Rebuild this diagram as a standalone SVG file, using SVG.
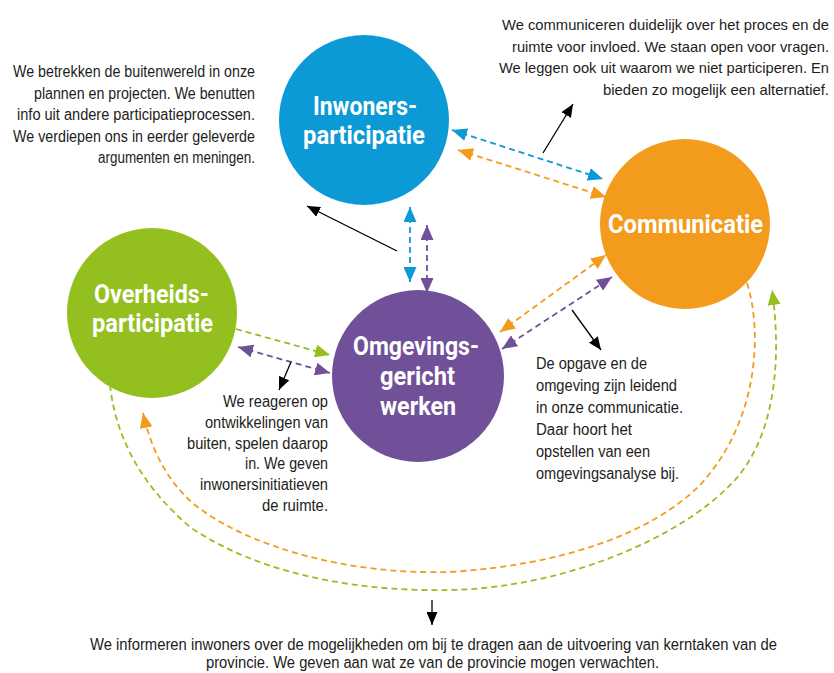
<svg xmlns="http://www.w3.org/2000/svg" width="834" height="673" viewBox="0 0 834 673">
<style>
.lbl{font-family:Roboto,"Liberation Sans",Arial,sans-serif;font-weight:700;font-size:25px;fill:#fff;text-anchor:middle}
.txt{font-family:"Liberation Sans",Arial,sans-serif;font-size:16px;fill:#1d1d1b}
.tr{font-size:14.8px}
.e{text-anchor:end}
.m{text-anchor:middle}
.d{fill:none;stroke-width:1.8;stroke-dasharray:6 4}
.k{fill:none;stroke:#000;stroke-width:1.3}
</style>
<defs>
<marker id="ab" markerUnits="userSpaceOnUse" markerWidth="15" markerHeight="13" refX="15" refY="6.5" orient="auto-start-reverse"><path d="M0,0L15,6.5L0,13z" fill="#0b9ad6"/></marker>
<marker id="ao" markerUnits="userSpaceOnUse" markerWidth="15" markerHeight="13" refX="15" refY="6.5" orient="auto-start-reverse"><path d="M0,0L15,6.5L0,13z" fill="#f39b1c"/></marker>
<marker id="ag" markerUnits="userSpaceOnUse" markerWidth="15" markerHeight="13" refX="15" refY="6.5" orient="auto-start-reverse"><path d="M0,0L15,6.5L0,13z" fill="#93c01f"/></marker>
<marker id="ap" markerUnits="userSpaceOnUse" markerWidth="15" markerHeight="13" refX="15" refY="6.5" orient="auto-start-reverse"><path d="M0,0L15,6.5L0,13z" fill="#71509a"/></marker>
<marker id="ak" markerUnits="userSpaceOnUse" markerWidth="13" markerHeight="11" refX="13" refY="5.5" orient="auto"><path d="M0,0L13,5.5L0,11z" fill="#000"/></marker>
</defs>
<rect width="834" height="673" fill="#fff"/>

<g id="inwoners">
<circle cx="364" cy="120" r="85" fill="#0b9ad6"/>
<text class="lbl" x="365" y="115" textLength="104" lengthAdjust="spacingAndGlyphs">Inwoners-</text>
<text class="lbl" x="364" y="144" textLength="122" lengthAdjust="spacingAndGlyphs">participatie</text>
</g>
<g id="communicatie">
<circle cx="685" cy="224" r="85" fill="#f39b1c"/>
<text class="lbl" x="685.5" y="233" textLength="155" lengthAdjust="spacingAndGlyphs">Communicatie</text>
</g>
<g id="overheids">
<circle cx="152" cy="313" r="85" fill="#93c01f"/>
<text class="lbl" x="151.5" y="303" textLength="115" lengthAdjust="spacingAndGlyphs">Overheids-</text>
<text class="lbl" x="152.5" y="332" textLength="121" lengthAdjust="spacingAndGlyphs">participatie</text>
</g>
<g id="omgevings">
<circle cx="418" cy="376" r="86" fill="#71509a"/>
<text class="lbl" x="416" y="355" textLength="126" lengthAdjust="spacingAndGlyphs">Omgevings-</text>
<text class="lbl" x="417.5" y="385" textLength="75" lengthAdjust="spacingAndGlyphs">gericht</text>
<text class="lbl" x="418" y="415" textLength="76" lengthAdjust="spacingAndGlyphs">werken</text>
</g>

<g id="connectors">
<line class="d" stroke="#0b9ad6" x1="452" y1="130" x2="603" y2="179" marker-start="url(#ab)" marker-end="url(#ab)"/>
<line class="d" stroke="#f39b1c" x1="458" y1="150" x2="606" y2="197" marker-start="url(#ao)" marker-end="url(#ao)"/>
<line class="d" stroke="#0b9ad6" x1="410" y1="207" x2="410" y2="282" marker-start="url(#ab)" marker-end="url(#ab)"/>
<line class="d" stroke="#71509a" x1="427" y1="225" x2="427" y2="293" marker-start="url(#ap)" marker-end="url(#ap)"/>
<line class="d" stroke="#93c01f" x1="236" y1="329" x2="330" y2="355" marker-end="url(#ag)"/>
<line class="d" stroke="#71509a" x1="238" y1="347" x2="330" y2="373" marker-start="url(#ap)" marker-end="url(#ap)"/>
<line class="d" stroke="#f39b1c" x1="500" y1="332" x2="606" y2="255" marker-start="url(#ao)" marker-end="url(#ao)"/>
<line class="d" stroke="#71509a" x1="502" y1="349" x2="612" y2="277" marker-start="url(#ap)" marker-end="url(#ap)"/>
<path class="d" stroke="#f39b1c" d="M747,283C762,330 760,420 700,485C650,535 560,565 450,572C350,575 250,548 195,505C165,480 150,445 143,413" marker-end="url(#ao)"/>
<path class="d" stroke="#93c01f" d="M110,385C115,430 135,480 190,527C260,575 360,592 450,590C560,588 680,540 735,480C775,435 782,360 772,290" marker-end="url(#ag)"/>
<line class="k" x1="397" y1="251" x2="307" y2="206" marker-end="url(#ak)"/>
<line class="k" x1="543" y1="153" x2="573" y2="104" marker-end="url(#ak)"/>
<line class="k" x1="572" y1="310" x2="601" y2="350" marker-end="url(#ak)"/>
<line class="k" x1="291" y1="362" x2="279" y2="390" marker-end="url(#ak)"/>
<line class="k" x1="432" y1="600" x2="432" y2="625" marker-end="url(#ak)"/>
</g>

<g id="notes">
<text class="txt e" x="255" y="77" textLength="242" lengthAdjust="spacingAndGlyphs">We betrekken de buitenwereld in onze</text>
<text class="txt e" x="255" y="98.5" textLength="221" lengthAdjust="spacingAndGlyphs">plannen en projecten. We benutten</text>
<text class="txt e" x="255" y="120" textLength="238" lengthAdjust="spacingAndGlyphs">info uit andere participatieprocessen.</text>
<text class="txt e" x="255" y="141.5" textLength="242" lengthAdjust="spacingAndGlyphs">We verdiepen ons in eerder geleverde</text>
<text class="txt e" x="255" y="163" textLength="157" lengthAdjust="spacingAndGlyphs">argumenten en meningen.</text>

<text class="txt tr e" x="829" y="30" textLength="327" lengthAdjust="spacingAndGlyphs">We communiceren duidelijk over het proces en de</text>
<text class="txt tr e" x="829" y="51.5" textLength="317" lengthAdjust="spacingAndGlyphs">ruimte voor invloed. We staan open voor vragen.</text>
<text class="txt tr e" x="829" y="73" textLength="330" lengthAdjust="spacingAndGlyphs">We leggen ook uit waarom we niet participeren. En</text>
<text class="txt tr e" x="829" y="94.5" textLength="226" lengthAdjust="spacingAndGlyphs">bieden zo mogelijk een alternatief.</text>

<text class="txt e" x="328" y="407" textLength="105" lengthAdjust="spacingAndGlyphs">We reageren op</text>
<text class="txt e" x="328" y="428" textLength="123" lengthAdjust="spacingAndGlyphs">ontwikkelingen van</text>
<text class="txt e" x="328" y="448.5" textLength="141" lengthAdjust="spacingAndGlyphs">buiten, spelen daarop</text>
<text class="txt e" x="328" y="469" textLength="83" lengthAdjust="spacingAndGlyphs">in. We geven</text>
<text class="txt e" x="328" y="490" textLength="128" lengthAdjust="spacingAndGlyphs">inwonersinitiatieven</text>
<text class="txt e" x="328" y="510.5" textLength="66" lengthAdjust="spacingAndGlyphs">de ruimte.</text>

<text class="txt" x="536" y="369" textLength="111" lengthAdjust="spacingAndGlyphs">De opgave en de</text>
<text class="txt" x="536" y="391" textLength="141" lengthAdjust="spacingAndGlyphs">omgeving zijn leidend</text>
<text class="txt" x="536" y="413" textLength="147" lengthAdjust="spacingAndGlyphs">in onze communicatie.</text>
<text class="txt" x="536" y="435" textLength="96" lengthAdjust="spacingAndGlyphs">Daar hoort het</text>
<text class="txt" x="536" y="456.5" textLength="114" lengthAdjust="spacingAndGlyphs">opstellen van een</text>
<text class="txt" x="536" y="478.5" textLength="143" lengthAdjust="spacingAndGlyphs">omgevingsanalyse bij.</text>

<text class="txt m" x="433.5" y="650" textLength="687" lengthAdjust="spacingAndGlyphs">We informeren inwoners over de mogelijkheden om bij te dragen aan de uitvoering van kerntaken van de</text>
<text class="txt m" x="432.5" y="668" textLength="453" lengthAdjust="spacingAndGlyphs">provincie. We geven aan wat ze van de provincie mogen verwachten.</text>
</g>
</svg>
